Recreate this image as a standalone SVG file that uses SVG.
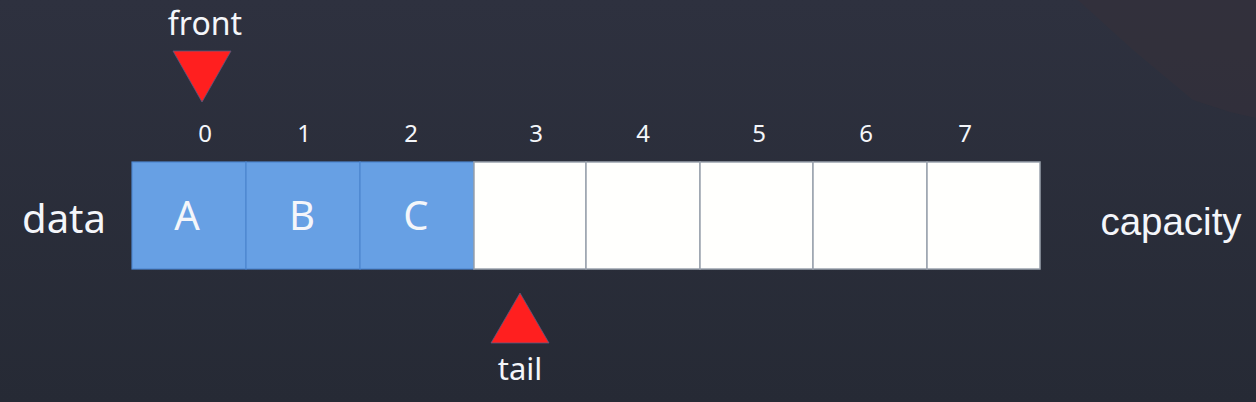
<svg xmlns="http://www.w3.org/2000/svg" width="1256" height="402" viewBox="0 0 1256 402">
<defs>
<linearGradient id="bg" x1="0" y1="0" x2="0" y2="1">
<stop offset="0" stop-color="#2e313f"/>
<stop offset="1" stop-color="#262a35"/>
</linearGradient>
<style>
.t{font-family:"Noto Sans","Liberation Sans",sans-serif;fill:#f4f6fa}
.cap{font-family:"Liberation Sans",Arial,sans-serif;font-size:38.5px;text-anchor:middle}
.idx{font-size:24px;text-anchor:middle}
.let{font-size:40px;text-anchor:middle}
.full{fill:#67a0e4;stroke:#4d86cf;stroke-width:1.2}
.empty{fill:#fffffd;stroke:#9aa2ad;stroke-width:1.5}
.tri{fill:#ff1f1f;stroke:#5a5a80;stroke-width:0.8}
</style>
</defs>
<rect width="1256" height="402" fill="url(#bg)"/>
<path d="M1078,0 L1256,0 L1256,118 L1230,112 L1193,100 L1133,50 Z" fill="#35303a" opacity="0.6"/>
<g id="label-data"><text class="t" x="64" y="233" font-size="40" text-anchor="middle">data</text></g>
<g id="label-capacity"><text class="t cap" x="1171" y="235">capacity</text></g>
<g id="indices">
<text class="t idx" x="205" y="142">0</text>
<text class="t idx" x="304" y="142">1</text>
<text class="t idx" x="411" y="142">2</text>
<text class="t idx" x="536" y="142">3</text>
<text class="t idx" x="643" y="142">4</text>
<text class="t idx" x="759" y="142">5</text>
<text class="t idx" x="866" y="142">6</text>
<text class="t idx" x="965" y="142">7</text>
</g>
<g id="cell0"><rect class="full" x="132" y="162" width="114" height="107"/><text class="t let" x="187" y="230">A</text></g>
<g id="cell1"><rect class="full" x="246" y="162" width="114" height="107"/><text class="t let" x="302" y="230">B</text></g>
<g id="cell2"><rect class="full" x="360" y="162" width="114" height="107"/><text class="t let" x="416" y="230">C</text></g>
<g id="cell3"><rect class="empty" x="474" y="162" width="112" height="107"/></g>
<g id="cell4"><rect class="empty" x="586" y="162" width="114" height="107"/></g>
<g id="cell5"><rect class="empty" x="700" y="162" width="113" height="107"/></g>
<g id="cell6"><rect class="empty" x="813" y="162" width="114" height="107"/></g>
<g id="cell7"><rect class="empty" x="927" y="162" width="113" height="107"/></g>
<g id="front">
<text class="t" x="205" y="35" font-size="32" text-anchor="middle">front</text>
<polygon class="tri" points="173,51 231,51 202,102"/>
</g>
<g id="tail">
<polygon class="tri" points="520,293 549,343 491,343"/>
<text class="t" x="520" y="380" font-size="31" text-anchor="middle">tail</text>
</g>
<g id="connectors"></g>
</svg>
